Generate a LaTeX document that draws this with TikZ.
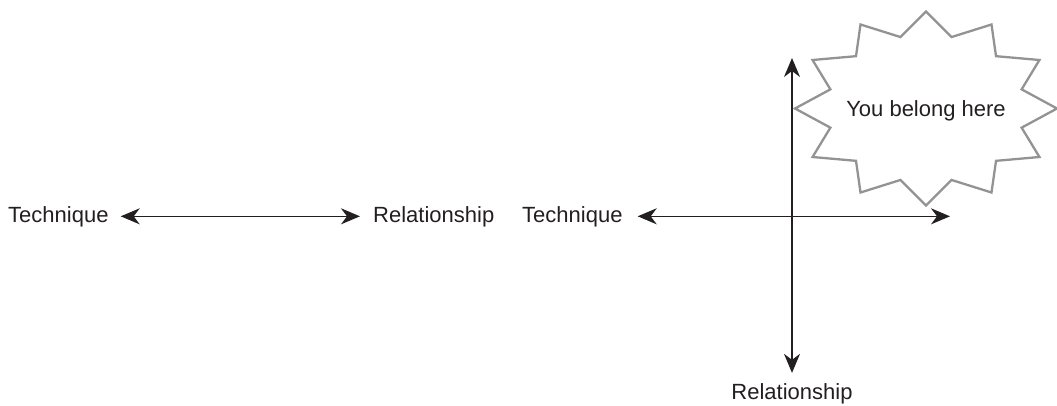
\documentclass[tikz,border=0pt]{standalone}
\usepackage{fontspec}
\setmainfont{Liberation Sans}
\usetikzlibrary{arrows.meta,calc}
\definecolor{ink}{HTML}{231F20}
\definecolor{burstgray}{HTML}{939393}
\begin{document}
\begin{tikzpicture}[x=1pt,y=-1pt,
  lbl/.style={inner sep=0pt, font=\fontsize{22}{26}\selectfont, text=ink},
  tip/.style={Stealth[length=19pt,width=16pt,inset=6pt]},
  axis/.style={line width=1.5pt, draw=ink, {Stealth[length=19pt,width=16pt,inset=6pt]}-{Stealth[length=19pt,width=16pt,inset=6pt]}},
  burst/.style={draw=burstgray, line width=2.3pt, line join=miter}]
\useasboundingbox (0,0) rectangle (1057,405);

% labels
\node[lbl, anchor=base west] (techA) at (8,222) {Technique};
\node[lbl, anchor=base west] (relA) at (373,222) {Relationship};
\node[lbl, anchor=base west] (techB) at (522,222) {Technique};
\node[lbl, anchor=base] (relB) at (792,399) {Relationship};

% free ends of the two axes
\coordinate (xend) at (950,0);
\coordinate (ytop) at (792,58);

% single scale: technique <-> relationship
\draw[axis, shorten <=12pt, shorten >=13pt] (techA.east) -- (relA.west);

% two-axis chart
\draw[axis, shorten <=15pt] (techB.east) -- (techB.east -| xend);
\draw[axis, shorten >=10pt] (ytop) -- (relB.north);

% starburst in the upper right quadrant
\coordinate (burstc) at (926,108.5);
\draw[burst] ($(burstc)+(0:131pt and 97pt)$)
  \foreach \a in {30,60,...,330} {
    -- ($(burstc)+(\a-15:99pt and 74pt)$) -- ($(burstc)+(\a:131pt and 97pt)$)
  }
  -- ($(burstc)+(345:99pt and 74pt)$) -- cycle;
\node[lbl, anchor=base] (you) at (926,116) {You belong here};
\end{tikzpicture}
\end{document}
